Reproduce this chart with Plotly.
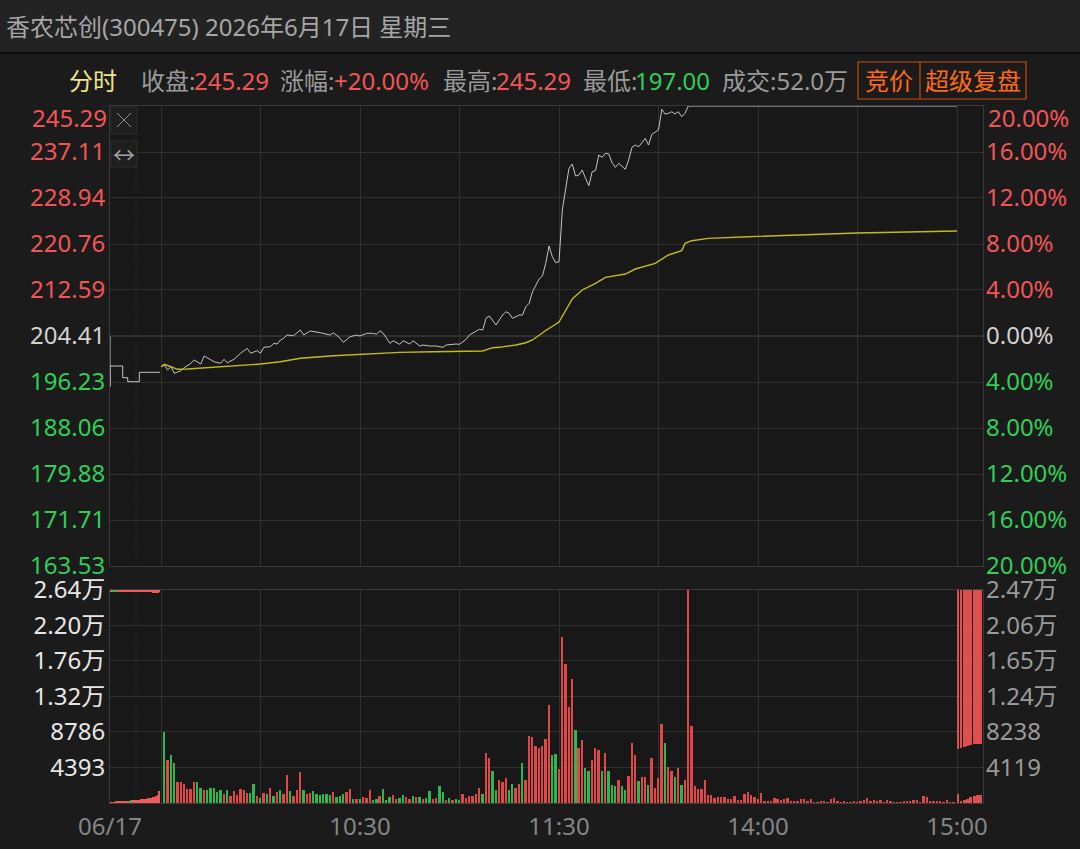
import plotly.graph_objects as go

# ---------------- data ----------------
prev_close = 204.41
price_ticks = [163.53, 171.71, 179.88, 188.06, 196.23, 204.41, 212.59, 220.76, 228.94, 237.11, 245.29]
pct_text = ["20.00%", "16.00%", "12.00%", "8.00%", "4.00%", "0.00%", "4.00%", "8.00%", "12.00%", "16.00%", "20.00%"]

vol_ticks_left = [4393, 8786, 13179, 17572, 21965, 26358]
vol_text_left = ["4393", "8786", "1.32万", "1.76万", "2.20万", "2.64万"]
vol_ticks_right = [4119, 8238, 12357, 16476, 20595, 24714]
vol_text_right = ["4119", "8238", "1.24万", "1.65万", "2.06万", "2.47万"]

time_ticks = [-15.38, 0, 30, 60, 90, 120, 150, 180, 210, 240]
time_text = ["06/17", "", "", "10:30", "", "11:30", "", "14:00", "", "15:00"]

# pre-open call auction (minutes before 9:30)
auction_min = [-15.38, -15.38, -15.38, -11.55, -11.55, -10.04, -10.04, -6.54, -6.54, -0.3]
auction_price = [204.41, 195.40, 199.08, 199.08, 197.00, 197.00, 196.29, 196.29, 197.96, 197.96]

# intraday price (minute index from 9:30, lunch break removed)
price_min = [0, 1, 2, 3, 4, 6, 7, 9, 10, 12, 13, 15, 16, 18, 19, 20, 22, 24, 26, 27, 29, 30, 31, 33, 34, 35,
             36, 37, 38, 40, 42, 43, 45, 48, 51, 52, 54, 55, 57, 59, 60, 62, 64, 65, 66, 67, 69, 70, 72, 73,
             75, 76, 78, 79, 81, 83, 85, 86, 88, 89, 90, 92, 93, 94, 96, 97, 98, 99, 101, 103, 104, 105, 106,
             108, 109, 110, 111, 112, 113, 114, 115, 116, 117, 118, 119, 120, 121, 122, 123, 124, 125, 126,
             127, 128, 129, 130, 131, 132, 133, 134, 135, 136, 137, 138, 139, 140, 141, 142, 143, 144, 145,
             146, 147, 148, 149, 150, 151, 152, 153, 154, 155, 156, 157, 158, 159, 240]
price_val = [198.95, 199.26, 198.37, 198.95, 197.78, 198.24, 198.78, 199.56, 200.14, 199.43, 200.86, 200.27,
             199.84, 199.56, 200.27, 199.66, 200.27, 201.34, 202.22, 201.34, 201.80, 201.34, 202.40, 202.51,
             203.11, 202.99, 203.70, 204.00, 204.59, 204.46, 205.48, 204.59, 205.30, 205.00, 204.59, 205.00,
             204.00, 203.29, 204.29, 204.59, 204.41, 204.89, 204.89, 204.71, 205.35, 204.89, 203.11, 203.57,
             202.93, 203.57, 202.99, 203.57, 202.63, 202.81, 202.63, 202.63, 202.40, 202.81, 202.99, 202.99,
             202.93, 203.82, 204.59, 204.89, 205.60, 205.48, 207.56, 207.96, 206.37, 208.14, 208.73, 208.44,
             207.56, 208.14, 208.14, 209.62, 210.22, 212.28, 213.47, 214.54, 215.07, 217.33, 220.40, 218.50,
             217.44, 217.61, 226.80, 230.94, 234.21, 234.98, 232.84, 233.02, 233.91, 232.44, 231.12, 233.61,
             233.79, 236.58, 236.17, 236.88, 236.75, 235.21, 234.39, 235.10, 234.62, 234.04, 235.69, 237.95,
             238.35, 238.05, 238.76, 239.54, 238.35, 240.26, 240.66, 241.02, 244.70, 243.86, 243.99, 244.27,
             243.86, 244.27, 243.38, 243.99, 245.29, 245.29]

avg_min = [0, 1, 3, 5, 8, 15, 22, 30, 36, 42, 52, 62, 72, 82, 92, 97, 100, 102, 107, 110, 112, 116, 120,
           124, 127, 131, 134, 140, 143, 149, 153, 157, 158, 160, 165, 177, 210, 240]
avg_val = [198.95, 199.38, 198.95, 198.49, 198.55, 198.85, 199.08, 199.43, 199.84, 200.45, 200.91, 201.21,
           201.51, 201.62, 201.69, 201.74, 202.33, 202.40, 202.81, 203.22, 203.70, 205.39, 206.90, 210.99,
           212.59, 213.78, 214.84, 215.43, 216.32, 217.33, 218.81, 219.57, 220.88, 221.35, 221.77, 222.06,
           222.71, 223.07]

# per-minute volume, minutes 1..240
volume = [8740, 5360, 5900, 4950, 2560, 2600, 2310, 1770, 1770, 2600,
          2640, 1900, 1650, 1570, 1900, 1810, 1400, 1570, 1150, 1570,
          820, 1480, 950, 1730, 1570, 1240, 1200, 2310, 820, 620,
          1240, 1150, 1810, 900, 1400, 1570, 1150, 3420, 1480, 820,
          1570, 3830, 1650, 1070, 1240, 1440, 1150, 950, 1150, 1150,
          950, 1360, 740, 900, 1150, 1360, 1770, 490, 490, 490,
          740, 580, 1570, 410, 490, 900, 1770, 410, 740, 1030,
          490, 580, 1030, 740, 490, 820, 740, 740, 490, 660,
          1440, 490, 660, 2060, 1400, 330, 580, 330, 450, 330,
          1150, 620, 820, 820, 1150, 1900, 1150, 6230, 5610, 3920,
          1570, 2800, 2560, 3050, 1650, 2390, 1810, 2310, 4950, 2800,
          8250, 8160, 7050, 6850, 7050, 7960, 12080, 5900, 6100, 4250,
          20490, 17230, 11870, 15300, 8990, 6800, 7750, 4330, 3960, 5360,
          6850, 6600, 3920, 6190, 4000, 2190, 2140, 2800, 2060, 1650,
          3300, 7380, 5900, 2720, 3180, 3180, 2190, 5530, 1810, 3090,
          9810, 7380, 4450, 3960, 3180, 4290, 2190, 2800, 26300, 9480,
          2060, 1690, 1690, 2890, 950, 950, 660, 740, 700, 780,
          490, 450, 820, 410, 330, 1150, 1400, 1030, 700, 490,
          1200, 250, 250, 250, 580, 450, 330, 540, 660, 290,
          290, 200, 450, 450, 200, 450, 120, 120, 290, 160,
          120, 490, 660, 200, 120, 200, 120, 80, 200, 80,
          200, 330, 660, 160, 330, 200, 330, 120, 410, 290,
          120, 120, 120, 200, 200, 200, 330, 410, 80, 820,
          740, 200, 200, 200, 200, 120, 410, 120, 60, 0]
# R = up/flat minute, G = down minute
volume_dir = ("GRGGRRRRRR" "GGRGGGGGRG" "RRRRRRGGRG" "RGRGRGRRGR" "RRGRRGGGGG"
              "GRGGGRRGRG" "RRRGGRGGGR" "RGGRRGRGRG" "GRRGGRGRGG" "RRRRRRGRRG"
              "GRRRGGRRGR" "RRRRRRRGGR" "RRRRGRRGGR" "RRGRGGGRGG" "RRRGRRGRRR"
              "RGRRGRGRRR" "RRRRRRRRRR" "RRRRRRRRRR" "RRRRRRRRRR" "RRRRRRRRRR"
              "RRRRRRRRRR" "RRRRRRRRRR" "RRRRRRRRRR" "RRRRRRRRRR")

# pre-open auction volume panel (left zone)
pre_min = [-15.0, -14.5, -14.0, -13.5, -13.0, -12.5, -12.0, -11.5, -11.0, -10.5,
           -10.0, -9.5, -9.0, -8.5, -8.0, -7.5, -7.0, -6.5, -6.0, -5.5,
           -5.0, -4.5, -4.0, -3.5, -3.0, -2.5, -2.0, -1.5, -1.0, -0.5]
pre_matched = [90, 100, 110, 130, 150, 170, 190, 210, 230, 250,
               270, 290, 400, 330, 350, 370, 390, 410, 440, 470,
               500, 530, 560, 600, 640, 700, 780, 880, 1050, 1450]
pre_matched_dir = "RRRRRRRRRRRRGRRRRRRRRRRRRRRRRR"
pre_unmatched = [160, 150, 170, 160, 150, 140, 150, 160, 150, 140,
                 150, 160, 150, 150, 140, 150, 160, 150, 150, 160,
                 180, 200, 210, 230, 260, 310, 360, 420, 400, 300]
pre_unmatched_dir = "RGGGRRRRRRRRRRRRRRRRRRRRRRRRRR"

# closing auction zone (right)
post_min = [240.3, 241.2, 242.2, 243.2, 244.2, 245.2, 246.2, 247.2]
post_matched = [1080, 150, 310, 500, 700, 850, 930, 960]
post_unmatched = [18480, 18290, 18170, 18060, 17940, 17900, 17860, 17860]

# ---------------- style ----------------
FONT = "Noto Sans, Noto Sans CJK SC, sans-serif"
RED = "#f25555"
GREEN = "#2fcf58"
GRAY = "#9a9a9a"
BG = "#1b1b1b"
PLOT_BG = "#181818"
GRID = "#303030"
BORDER = "#3a3a3a"
BAR_RED = "#e04848"
BAR_GREEN = "#2cb84c"


def col_price(v):
    if v > prev_close:
        return RED
    if v < prev_close:
        return GREEN
    return "#d2d2d2"


left_text = [f'<span style="color:{col_price(v)}">{v:.2f}</span>' for v in price_ticks]
right_text = [f'<span style="color:{col_price(v)}">{t}</span>' for v, t in zip(price_ticks, pct_text)]

fig = go.Figure()

# price panel
fig.add_trace(go.Scatter(x=auction_min, y=auction_price, mode="lines",
                         line=dict(color="#c4c4c4", width=1), xaxis="x", yaxis="y", hoverinfo="skip"))
fig.add_trace(go.Scatter(x=price_min, y=price_val, mode="lines",
                         line=dict(color="#c4c4c4", width=1), xaxis="x", yaxis="y"))
# average line drawn against the (identical-range) right percentage axis
fig.add_trace(go.Scatter(x=avg_min, y=avg_val, mode="lines",
                         line=dict(color="#c2bc18", width=1.4), xaxis="x", yaxis="y2"))

# volume panel
vol_x = list(range(1, len(volume) + 1))
fig.add_trace(go.Bar(x=vol_x, y=volume, width=0.55,
                     marker=dict(color=[BAR_RED if d == "R" else BAR_GREEN for d in volume_dir], line_width=0),
                     xaxis="x2", yaxis="y3"))
fig.add_trace(go.Bar(x=pre_min, y=pre_matched, width=0.42,
                     marker=dict(color=["#f05a5a" if d == "R" else BAR_GREEN for d in pre_matched_dir], line_width=0),
                     xaxis="x2", yaxis="y3"))
fig.add_trace(go.Bar(x=pre_min, y=[-v for v in pre_unmatched], base=vol_ticks_left[-1], width=0.42,
                     marker=dict(color=["#f05a5a" if d == "R" else BAR_GREEN for d in pre_unmatched_dir], line_width=0),
                     xaxis="x2", yaxis="y3"))
fig.add_trace(go.Bar(x=post_min, y=post_matched, width=0.88,
                     marker=dict(color="#dd5050", line_width=0), xaxis="x2", yaxis="y4"))
fig.add_trace(go.Bar(x=post_min, y=[-v for v in post_unmatched], base=vol_ticks_right[-1], width=0.88,
                     marker=dict(color="#dd5050", line_width=0), xaxis="x2", yaxis="y4"))

X_RANGE = [-15.38, 247.84]
xcommon = dict(range=X_RANGE, tickvals=time_ticks, showgrid=True, gridcolor=GRID, gridwidth=1,
               zeroline=False, showline=True, linecolor=BORDER, mirror=True, ticks="", fixedrange=True,
               automargin=False)


def yax(color, **kw):
    d = dict(zeroline=False, ticks="", fixedrange=True, gridcolor=GRID, automargin=False,
             tickfont=dict(size=24, family=FONT, color=color))
    d.update(kw)
    return d


fig.update_layout(
    width=1080, height=849,
    paper_bgcolor=BG, plot_bgcolor=PLOT_BG,
    margin=dict(l=110, r=97, t=106, b=46, autoexpand=False),
    showlegend=False, barmode="overlay", bargap=0,
    font=dict(family=FONT, size=24, color=GRAY),
    xaxis=dict(**xcommon, anchor="y", showticklabels=False, matches="x2"),
    xaxis2=dict(**xcommon, anchor="y3", ticktext=time_text, showticklabels=True,
                tickfont=dict(size=24, color="#858585", family=FONT), ticklabelstandoff=2),
    yaxis=yax(GRAY, domain=[0.34, 1.0], range=[price_ticks[0], price_ticks[-1]], showgrid=True,
              tickvals=price_ticks[:-1], ticktext=left_text[:-1], anchor="x", side="left",
              showline=True, linecolor=BORDER, mirror=True, ticklabelstandoff=-1),
    yaxis2=yax(GRAY, overlaying="y", range=[price_ticks[0], price_ticks[-1]], showgrid=False,
               tickvals=price_ticks[:-1], ticktext=right_text[:-1], anchor="x", side="right",
               ticklabelstandoff=2),
    yaxis3=yax("#e6e6e6", domain=[0.0, 0.3056], range=[0, vol_ticks_left[-1]], showgrid=True,
               tickvals=vol_ticks_left, ticktext=vol_text_left, anchor="x2", side="left",
               showline=True, linecolor=BORDER, mirror=True, ticklabelstandoff=-1),
    yaxis4=yax(GRAY, overlaying="y3", range=[0, vol_ticks_right[-1]], showgrid=False,
               tickvals=vol_ticks_right, ticktext=vol_text_right, anchor="x2", side="right",
               ticklabelstandoff=2),
)


# helpers: pixel -> paper coords
def px(X):
    return (X - 110) / 873.0


def py(Y):
    return (803 - Y) / 697.0


shapes = [
    # header bar
    dict(type="rect", xref="paper", yref="paper", x0=px(0), x1=px(1080), y0=py(52), y1=py(0),
         fillcolor="#232323", line_width=0, layer="below"),
    dict(type="line", xref="paper", yref="paper", x0=px(0), x1=px(1080), y0=py(53), y1=py(53),
         line=dict(color="#0e0e0e", width=2)),
    # previous close line (slightly brighter)
    dict(type="line", xref="x domain", yref="y", x0=0, x1=1, y0=prev_close, y1=prev_close,
         line=dict(color="#454545", width=1), layer="below"),
    # faint 9:20 separators in auction zone
    dict(type="line", xref="x", yref="y domain", x0=-7.54, x1=-7.54, y0=0, y1=1,
         line=dict(color="#2a2a2a", width=1, dash="dot"), layer="below"),
    dict(type="line", xref="x2", yref="y3 domain", x0=-7.54, x1=-7.54, y0=0, y1=1,
         line=dict(color="#2a2a2a", width=1, dash="dot"), layer="below"),
    # tool buttons
    dict(type="rect", xref="paper", yref="paper", x0=px(111), x1=px(137), y0=py(134), y1=py(107),
         fillcolor="#1e1e1e", line=dict(color="#2c2c2c", width=1)),
    dict(type="rect", xref="paper", yref="paper", x0=px(111), x1=px(137), y0=py(167), y1=py(141),
         fillcolor="#1e1e1e", line=dict(color="#2c2c2c", width=1)),
    dict(type="line", xref="paper", yref="paper", x0=px(117), x1=px(131), y0=py(113), y1=py(127),
         line=dict(color="#8a8a8a", width=1)),
    dict(type="line", xref="paper", yref="paper", x0=px(117), x1=px(131), y0=py(127), y1=py(113),
         line=dict(color="#8a8a8a", width=1)),
    # 竞价 / 超级复盘 box
    dict(type="rect", xref="paper", yref="paper", x0=px(858), x1=px(1026), y0=py(99), y1=py(62),
         fillcolor="rgba(0,0,0,0)", line=dict(color="#c85010", width=1.2)),
    dict(type="line", xref="paper", yref="paper", x0=px(920), x1=px(920), y0=py(99), y1=py(62),
         line=dict(color="#c85010", width=1.2)),
]

ann = []


def txt(X, Y, s, color, size=24, anchor="left"):
    ann.append(dict(xref="paper", yref="paper", x=px(X), y=py(Y), text=s, showarrow=False,
                    xanchor=anchor, yanchor="middle", font=dict(size=size, color=color, family=FONT)))


txt(4, 26, "香农芯创(300475) 2026年6月17日 星期三", "#a6a6a6")
txt(67, 81, "分时", "#efe48c")
txt(139, 81, "收盘:", GRAY)
txt(192, 81, "245.29", RED)
txt(278, 81, "涨幅:", GRAY)
txt(332, 81, "+20.00%", RED)
txt(441, 81, "最高:", GRAY)
txt(494, 81, "245.29", RED)
txt(581, 81, "最低:", GRAY)
txt(633, 81, "197.00", GREEN)
txt(720, 81, "成交:52.0万", GRAY)
txt(889, 81, "竞价", "#ff6a14", anchor="center")
txt(973, 81, "超级复盘", "#ff6a14", anchor="center")
txt(124, 154, "↔", "#a0a0a0", size=22, anchor="center")

# top price-axis labels (sit just below the top border, as in the app)
ann.append(dict(xref="paper", yref="y", x=px(109), y=price_ticks[-1], text=left_text[-1], showarrow=False,
                xanchor="right", yanchor="top", yshift=7, font=dict(size=24, family=FONT)))
ann.append(dict(xref="paper", yref="y", x=px(986), y=price_ticks[-1], text=right_text[-1], showarrow=False,
                xanchor="left", yanchor="top", yshift=7, font=dict(size=24, family=FONT)))

fig.update_layout(shapes=shapes, annotations=ann)

fig.write_html("out.html")
